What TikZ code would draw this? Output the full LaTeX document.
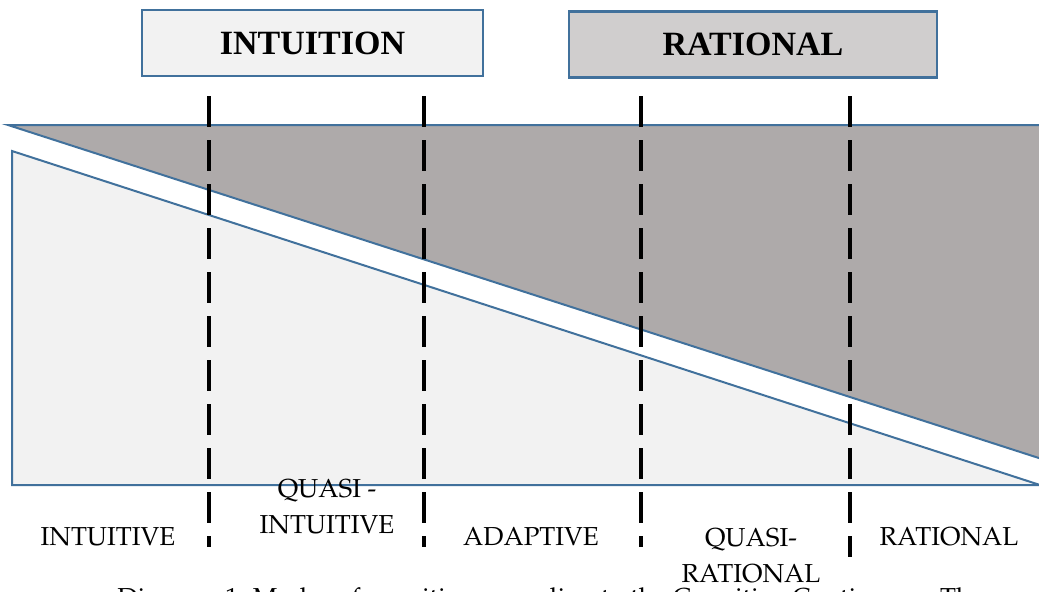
\documentclass[tikz,border=0pt]{standalone}
\usepackage[T1]{fontenc}
\usepackage{fontspec}
\setmainfont{Liberation Serif}
\usepackage{xcolor}
\usetikzlibrary{positioning}
\definecolor{eblue}{HTML}{41719C}
\definecolor{lgray}{HTML}{F2F2F2}
\definecolor{mgray}{HTML}{D0CECE}
\definecolor{dgray}{HTML}{AEAAAA}
\newcommand{\pala}{\fontencoding{T1}\fontfamily{ppl}\selectfont}
\tikzstyle{title}=[draw=eblue, line width=1.2pt, inner sep=0pt, minimum height=33pt, font=\bfseries\fontsize{17}{20}\selectfont]
\tikzstyle{l1}=[eblue, line width=1pt]
\tikzstyle{split}=[line width=2pt, dash pattern=on 15.5pt off 6.5pt]
\tikzstyle{lab}=[inner sep=0pt, align=center, font=\pala\fontsize{13}{18}\selectfont]

\begin{document}
\begin{tikzpicture}[x=0.5pt, y=-0.5pt]
    \useasboundingbox (0,0) rectangle (1039,591);

    % mode boxes
    \node (intu) [title, fill=lgray, minimum width=170.5pt] at (312.5,43) {INTUITION};
    \node (rat) [title, fill=mgray, minimum width=184pt] at (753,44.5) {RATIONAL};

    % wedges
    \fill[dgray] (8,125) -- (1045,125) -- (1045,460) -- cycle;
    \draw[l1] (1045,460) -- (8,125) -- (1045,125);
    \draw[l1, fill=lgray] (12,151) -- (12,485) -- (1040,485) -- cycle;

    % borders between modes
    \coordinate (t1) at (209,96);  \coordinate (b1) at (209,547);
    \coordinate (t2) at (424,96);  \coordinate (b2) at (424,547);
    \coordinate (t3) at (641,96);  \coordinate (b3) at (641,547);
    \coordinate (t4) at (850,96);  \coordinate (b4) at (850,557);
    \draw[split] (t1) -- (b1) (t2) -- (b2) (t3) -- (b3) (t4) -- (b4);

    % mode labels
    \node (m1) [lab, anchor=base] at (108,545) {INTUITIVE};
    \node (m2) [lab, anchor=base] at (327,533) {QUASI -\\INTUITIVE};
    \node (m3) [lab, anchor=base] at (531,545) {ADAPTIVE};
    \node (m4) [lab, anchor=base] at (751,582) {QUASI-\\RATIONAL};
    \node (m5) [lab, anchor=base] at (949,545) {RATIONAL};

    \node (cap) [lab, anchor=base west] at (117,606) {Diagram 1: Modes of cognition according to the Cognitive Continuum. The};
\end{tikzpicture}
\end{document}
